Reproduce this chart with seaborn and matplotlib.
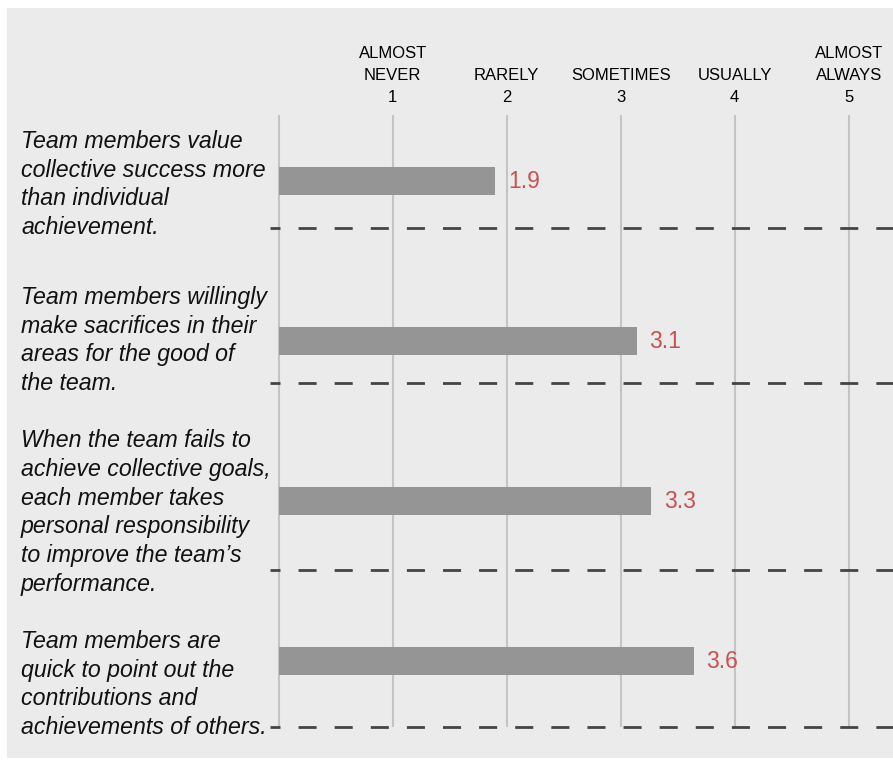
import matplotlib
matplotlib.use("Agg")
import matplotlib.pyplot as plt
import matplotlib.transforms as mtransforms
from matplotlib.patches import Rectangle
import seaborn as sns
import pandas as pd

# ---- data ----
statements = [
    "Team members value\ncollective success more\nthan individual\nachievement.",
    "Team members willingly\nmake sacrifices in their\nareas for the good of\nthe team.",
    "When the team fails to\nachieve collective goals,\neach member takes\npersonal responsibility\nto improve the team\u2019s\nperformance.",
    "Team members are\nquick to point out the\ncontributions and\nachievements of others.",
]
scores = [1.90, 3.14, 3.27, 3.64]
scale_values = [1, 2, 3, 4, 5]
scale_names = ["ALMOST\nNEVER", "RARELY", "SOMETIMES", "USUALLY", "ALMOST\nALWAYS"]

# ---- layout (not data) ----
label_centers = [0.022, 0.997, 2.072, 3.147]
divider_pos = [0.294, 1.263, 2.431, 3.4125]

sns.set_theme(style="white")
plt.rcParams["font.family"] = ["Liberation Sans", "DejaVu Sans"]
plt.rcParams["lines.scale_dashes"] = False

W, H = 893, 761
fig = plt.figure(figsize=(W / 100, H / 100), dpi=100, facecolor="white")
fig.patches.append(Rectangle((7 / W, 3 / H), (W - 7) / W, 750 / H,
                             transform=fig.transFigure, facecolor="#ebebeb",
                             edgecolor="none", zorder=-10))

ax = fig.add_axes([270 / W, 1 - 727 / H, (W - 270) / W, (727 - 115) / H])
ax.set_facecolor("none")
ax.set_zorder(5)

df = pd.DataFrame({"statement": statements, "score": scores})
sns.barplot(data=df, x="score", y="statement", orient="h", color="#959595",
            width=0.175, saturation=1, ax=ax, zorder=3, errorbar=None,
            linewidth=0, edgecolor="none")

ax.set_xlim((270 - 278.7) / 114, (893 - 278.7) / 114)
ax.set_ylim(3.4125, -0.4125)

for s in ax.spines.values():
    s.set_visible(False)

# top tick labels (scale)
ax.xaxis.tick_top()
ax.set_xticks([0] + scale_values)
ax.set_xticklabels([""] + [f"{n}\n{v}" for n, v in zip(scale_names, scale_values)],
                   fontsize=12, color="black", linespacing=1.55)
ax.tick_params(axis="x", length=0, pad=7.5)
ax.set_yticks([])
ax.set_xlabel("")
ax.set_ylabel("")
ax.grid(axis="x", color="#c4c4c4", linewidth=1.5, zorder=1)
ax.grid(axis="y", visible=False)
ax.set_axisbelow(True)

# dashed dividers
for y in divider_pos:
    ax.axhline(y, color="#444444", linewidth=2.0, linestyle=(5.8, (13, 13)),
               clip_on=False, zorder=2)

# statement labels
trans = mtransforms.blended_transform_factory(fig.transFigure, ax.transData)
for txt, yc in zip(statements, label_centers):
    ax.text(21 / W, yc, txt, transform=trans, ha="left", va="center",
            fontsize=16.7, style="italic", color="#111111", linespacing=1.33)

# value labels
for i, v in enumerate(scores):
    ax.text(v + 0.11, i, f"{v:.1f}", ha="left", va="center",
            fontsize=16.5, color="#c9514f")

fig.savefig("out.png", dpi=100, facecolor="white")
